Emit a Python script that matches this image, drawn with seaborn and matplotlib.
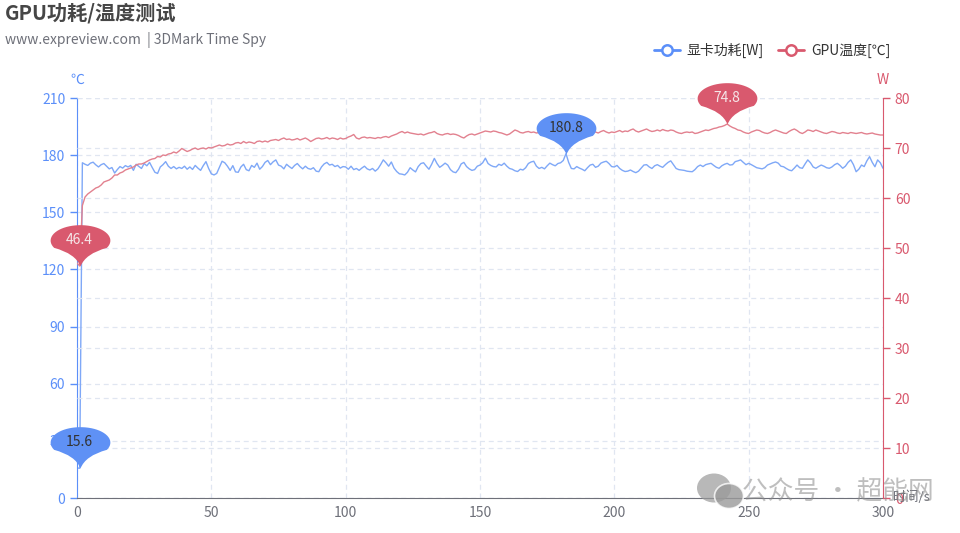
import numpy as np
import pandas as pd
import seaborn as sns
import matplotlib.pyplot as plt
from matplotlib.path import Path
from matplotlib.lines import Line2D
from matplotlib.patches import Ellipse

# data (1 sample per second, 0-300 s)
seconds = list(range(0, 301))
power_w = [
    15.8, 15.6, 176.0, 175.2, 174.6, 175.8, 176.3, 174.9, 173.8, 175.0,
    175.6, 174.2, 172.8, 173.5, 170.6, 172.4, 174.0, 173.2, 174.5, 173.8,
    174.6, 172.0, 175.2, 174.1, 173.0, 175.6, 174.4, 176.2, 173.5, 171.0,
    170.4, 173.8, 175.0, 176.6, 174.2, 173.0, 174.0, 172.8, 173.6, 173.0,
    174.2, 172.6, 173.8, 172.5, 174.6, 173.2, 172.0, 174.5, 176.6, 173.0,
    170.2, 169.6, 170.4, 173.6, 176.8, 176.0, 174.2, 172.0, 174.5, 171.2,
    171.0, 173.8, 175.2, 172.4, 171.8, 174.6, 173.6, 175.8, 172.6, 174.0,
    176.2, 177.2, 175.0, 176.5, 177.5, 174.8, 174.2, 172.8, 175.2, 174.0,
    173.0, 174.6, 175.6, 174.0, 172.8, 174.2, 173.0, 172.6, 173.4, 171.6,
    171.3, 173.8, 175.4, 176.2, 174.8, 175.2, 174.0, 174.6, 173.2, 174.0,
    173.8, 172.6, 174.2, 172.4, 173.0, 172.0, 173.2, 174.2, 172.8, 172.2,
    173.0, 171.6, 172.8, 175.0, 177.5, 176.0, 174.2, 176.4, 173.2, 171.4,
    170.2, 170.0, 169.6, 171.0, 173.4, 172.2, 171.2, 174.0, 175.6, 176.0,
    174.2, 172.6, 175.2, 178.3, 175.6, 173.6, 174.6, 175.8, 174.8, 172.4,
    171.2, 170.8, 172.6, 175.4, 176.2, 174.0, 172.8, 172.0, 172.4, 174.2,
    174.8, 176.0, 178.4, 175.6, 174.6, 174.0, 173.8, 175.2, 174.6, 175.8,
    174.2, 173.0, 172.6, 171.8, 171.4, 172.6, 172.2, 173.4, 175.6, 176.4,
    176.8, 174.2, 173.0, 173.6, 172.8, 174.4, 175.8, 175.0, 174.4, 175.6,
    176.0, 177.2, 180.8, 176.2, 173.0, 172.8, 174.0, 173.2, 172.6, 171.8,
    173.4, 174.8, 175.2, 173.6, 174.2, 175.8, 176.4, 176.8, 175.6, 174.0,
    173.8, 174.6, 173.0, 172.0, 171.4, 171.6, 172.2, 171.4, 170.8, 171.6,
    173.2, 174.8, 175.0, 173.8, 173.0, 174.4, 175.0, 174.2, 173.6, 175.0,
    176.2, 177.0, 175.0, 173.0, 172.4, 172.2, 172.0, 171.6, 171.4, 171.3,
    172.4, 174.0, 174.8, 174.0, 175.0, 175.4, 175.7, 174.6, 173.6, 173.1,
    174.4, 175.2, 175.7, 174.8, 175.0, 176.6, 177.0, 177.5, 176.2, 175.0,
    175.7, 175.0, 174.2, 173.4, 173.1, 172.8, 173.4, 174.8, 175.4, 176.0,
    176.4, 175.8, 174.2, 173.9, 173.0, 172.2, 171.8, 173.2, 174.8, 173.4,
    173.1, 175.4, 177.5, 176.0, 173.8, 173.1, 174.0, 174.8, 174.2, 173.4,
    173.1, 173.8, 175.0, 175.7, 174.6, 173.1, 174.2, 176.2, 177.5, 175.0,
    171.3, 172.6, 174.8, 174.0, 177.0, 179.2, 176.2, 173.9, 177.5, 176.0, 173.1,
]
temp_c = [
    47.0, 46.4, 58.5, 60.2, 60.8, 61.2, 61.6, 62.0, 62.2, 62.6,
    63.2, 63.4, 63.6, 64.0, 64.6, 64.6, 65.0, 65.2, 65.6, 65.8,
    66.0, 66.2, 66.6, 66.8, 66.8, 67.0, 67.3, 67.6, 67.8, 67.9,
    68.3, 68.2, 68.6, 68.5, 68.8, 68.9, 69.2, 69.0, 69.4, 69.9,
    69.6, 69.3, 69.5, 69.8, 70.0, 69.7, 69.9, 70.0, 69.8, 70.1,
    70.0, 70.2, 70.4, 70.6, 70.4, 70.5, 70.8, 70.6, 70.7, 71.0,
    71.1, 70.9, 71.3, 71.0, 71.2, 71.1, 70.9, 71.3, 71.4, 71.2,
    71.4, 71.2, 71.5, 71.6, 71.7, 71.5, 71.8, 72.0, 71.7, 71.8,
    71.6, 71.7, 71.9, 71.6, 71.8, 72.0, 71.7, 71.3, 71.6, 71.9,
    72.0, 71.8, 71.9, 72.1, 71.8, 72.0, 71.9, 71.7, 72.0, 71.8,
    71.9, 72.2, 72.4, 72.7, 72.0, 71.8, 72.1, 72.2, 72.0, 72.1,
    72.0, 71.9, 72.1, 72.0, 72.2, 72.3, 72.1, 72.4, 72.6, 72.8,
    73.1, 73.3, 73.0, 73.2, 73.0, 72.9, 72.8, 72.7, 72.8, 72.6,
    72.8, 73.0, 73.1, 73.3, 72.9, 72.7, 72.6, 72.8, 72.9, 72.7,
    72.8, 72.7, 72.5, 72.2, 72.0, 72.4, 72.7, 72.8, 72.6, 72.8,
    73.0, 73.2, 73.4, 73.3, 73.2, 73.4, 73.3, 73.1, 73.0, 72.8,
    72.6, 72.8, 73.2, 73.6, 73.4, 73.1, 73.0, 73.2, 73.3, 73.1,
    73.2, 73.0, 73.1, 73.3, 73.2, 73.0, 73.2, 73.4, 73.1, 73.2,
    73.0, 73.3, 73.2, 73.4, 73.1, 73.0, 73.3, 73.2, 73.4, 73.6,
    73.3, 73.1, 73.4, 73.2, 73.0, 73.3, 73.5, 73.2, 73.0, 73.2,
    73.1, 73.3, 73.5, 73.2, 73.4, 73.3, 73.6, 73.8, 73.4, 73.2,
    73.4, 73.6, 73.8, 73.5, 73.3, 73.4, 73.6, 73.4, 73.7, 73.5,
    73.4, 73.6, 73.5, 73.2, 73.0, 72.9, 73.1, 73.2, 73.1, 73.2,
    72.9, 73.0, 73.2, 73.4, 73.6, 73.5, 73.7, 73.9, 74.0, 74.2,
    74.3, 74.5, 74.8, 74.4, 74.1, 73.9, 73.6, 73.5, 73.2, 73.0,
    72.9, 73.2, 73.4, 73.6, 73.5, 73.2, 73.0, 72.9, 73.1, 73.4,
    73.6, 73.4, 73.2, 73.0, 72.9, 73.3, 73.6, 73.8, 73.5, 73.1,
    72.9, 73.2, 73.6, 73.5, 73.3, 73.6, 73.4, 73.2, 73.0, 72.9,
    73.1, 73.3, 73.2, 73.0, 72.9, 73.1, 73.0, 72.9, 73.1, 73.0,
    72.9, 73.0, 73.1, 72.9, 72.8, 72.9, 73.0, 72.8, 72.7, 72.6, 72.6,
]
left_ticks = [0, 30, 60, 90, 120, 150, 180, 210]
right_ticks = [0, 10, 20, 30, 40, 50, 60, 70, 80]
x_ticks = [0, 50, 100, 150, 200, 250, 300]

df = pd.DataFrame({'t': seconds, 'power': power_w, 'temp': temp_c})

BLUE = '#5B8FF9'
RED = '#D9596E'
GRAY = '#6E7079'
GRID = '#E0E6F1'

sns.set_style('white')
plt.rcParams['font.family'] = ['Noto Sans CJK SC', 'DejaVu Sans']

fig = plt.figure(figsize=(9.6, 5.33), dpi=100)
ax = fig.add_axes([77 / 960, 1 - 498 / 533, 806 / 960, 400 / 533])
ax2 = ax.twinx()

# grids (both y scales draw their own dashed lines)
ax.set_axisbelow(True)
ax.grid(True, axis='both', color=GRID, linestyle=(0, (4, 3)), linewidth=0.9)
ax2.grid(True, axis='y', color=GRID, linestyle=(0, (4, 3)), linewidth=0.9)

sns.lineplot(data=df, x='t', y='power', ax=ax, color='#7FA8F7', linewidth=1.0)
sns.lineplot(data=df, x='t', y='temp', ax=ax2, color='#E2818F', linewidth=1.0)

ax.set_xlim(0, 300)
ax.set_ylim(0, 210)
ax2.set_ylim(0, 80)
ax.set_xticks(x_ticks)
ax.set_yticks(left_ticks)
ax2.set_yticks(right_ticks)
ax.set_xlabel('')
ax.set_ylabel('')
ax2.set_ylabel('')

ax.tick_params(axis='y', colors=BLUE, labelsize=10, length=5, width=1)
ax2.tick_params(axis='y', colors=RED, labelsize=10, length=5, width=1)
ax.tick_params(axis='x', colors=GRAY, labelsize=10, length=0, pad=6)
for a in (ax, ax2):
    for s in a.spines.values():
        s.set_visible(False)
ax.spines['left'].set_visible(True)
ax.spines['left'].set_color(BLUE)
ax.spines['bottom'].set_visible(True)
ax.spines['bottom'].set_color(GRAY)
ax2.spines['right'].set_visible(True)
ax2.spines['right'].set_color(RED)


# pin shaped mark points (tip at the data point)
def pin_marker():
    th = np.linspace(np.deg2rad(-28), np.deg2rad(208), 40)
    ell = np.column_stack([30 * np.cos(th), 26 + 15.5 * np.sin(th)])
    verts = [(0, 0), (5, 13)] + [tuple(p) for p in ell] + [(-5, 13), (0, 0), (0, 0)]
    codes = ([Path.MOVETO, Path.CURVE3, Path.CURVE3] + [Path.LINETO] * (len(ell) - 1)
             + [Path.CURVE3, Path.CURVE3, Path.CLOSEPOLY])
    return Path(verts, codes)


PIN = pin_marker()
i_pmax = int(np.argmax(power_w))
i_pmin = int(np.argmin(power_w))
i_tmax = int(np.argmax(temp_c))
i_tmin = int(np.argmin(temp_c))

marks = [
    (seconds[i_pmax], power_w[i_pmax], ax, '#5F91F5', '#333333'),
    (seconds[i_pmin], power_w[i_pmin], ax, '#5F91F5', '#333333'),
    (seconds[i_tmax], temp_c[i_tmax], ax2, '#D9596E', '#F5E6E8'),
    (seconds[i_tmin], temp_c[i_tmin], ax2, '#D9596E', '#F5E6E8'),
]
for xv, yv, src, fc, tc in marks:
    ax2.plot([xv], [yv], marker=PIN, markersize=59.5, color=fc, markeredgewidth=0,
             transform=src.transData, zorder=10, clip_on=False)
    ax2.annotate(f'{yv:.1f}', (xv, yv), xycoords=src.transData, xytext=(0, 18.7),
                 textcoords='offset points', ha='center', va='center',
                 fontsize=10, color=tc, zorder=11, annotation_clip=False)
ax2.set_ylim(0, 80)
ax.set_xlim(0, 300)

# titles
fig.text(5 / 960, 1 - 13 / 533, 'GPU功耗/温度测试', fontsize=14.5, fontweight='bold',
         color='#464646', ha='left', va='center')
fig.text(5 / 960, 1 - 40 / 533, 'www.expreview.com  | 3DMark Time Spy', fontsize=10,
         color='#6E7079', ha='left', va='center')

# axis names
fig.text(77 / 960, 1 - 80 / 533, '℃', color=BLUE, fontsize=10, ha='center', va='center')
fig.text(883 / 960, 1 - 80 / 533, 'W', color=RED, fontsize=10, ha='center', va='center')
fig.text(893 / 960, 1 - 497 / 533, '时间/s', color=GRAY, fontsize=9.5, ha='left', va='center')

# legend
handles = [
    Line2D([], [], color=BLUE, lw=2, marker='o', markersize=7.5, markerfacecolor='white',
           markeredgewidth=1.8),
    Line2D([], [], color=RED, lw=2, marker='o', markersize=7.5, markerfacecolor='white',
           markeredgewidth=1.8),
]
fig.legend(handles, ['显卡功耗[W]', 'GPU温度[℃]'], loc='center left',
           bbox_to_anchor=(641 / 960, 1 - 50 / 533), ncol=2, frameon=False,
           fontsize=10, handlelength=1.9, handletextpad=0.5, columnspacing=1.0,
           labelcolor='#333333')

# watermark
fig.patches.append(Ellipse((7.14, 0.45), 0.34, 0.29, transform=fig.dpi_scale_trans,
                           facecolor='#9A9A9A', alpha=0.7, edgecolor='none'))
fig.patches.append(Ellipse((7.29, 0.37), 0.29, 0.25, transform=fig.dpi_scale_trans,
                           facecolor='#9A9A9A', alpha=0.8, edgecolor='white', linewidth=1.2))
fig.text(742 / 960, 1 - 492 / 533, '公众号 · 超能网', fontsize=18.5, color='#8A8A8A',
         alpha=0.55, ha='left', va='center')

plt.savefig('out.png', dpi=100)
